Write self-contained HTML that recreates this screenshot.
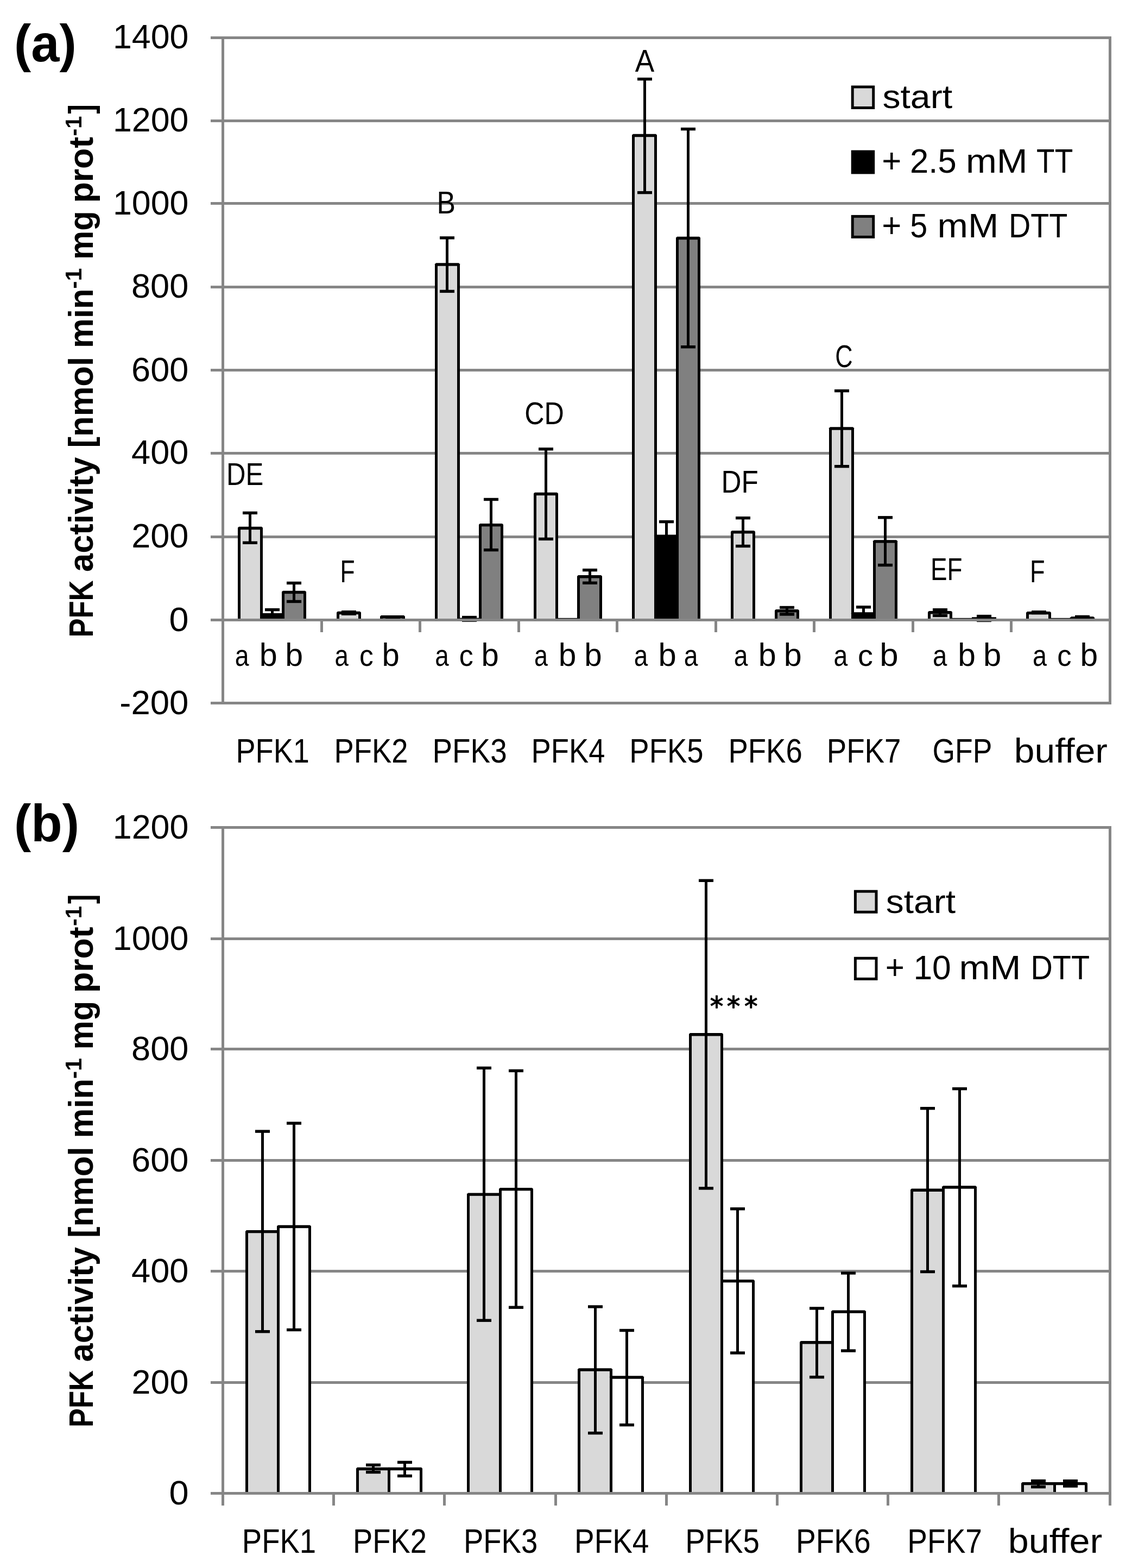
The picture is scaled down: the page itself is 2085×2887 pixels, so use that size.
<!DOCTYPE html>
<html lang="en">
<head>
<meta charset="utf-8">
<title>PFK activity</title>
<style>
html,body{margin:0;padding:0;background:#fff;}
body{width:2085px;height:2887px;overflow:hidden;}
svg{display:block;}
text{font-family:"Liberation Sans",sans-serif;fill:#000;}
</style>
</head>
<body>
<svg width="2085" height="2887" viewBox="0 0 2085 2887">
<rect width="2085" height="2887" fill="#fff"/>
<rect x="388" y="67" width="1659" height="5" fill="#868686"/>
<rect x="388" y="220" width="1659" height="5" fill="#868686"/>
<rect x="388" y="372" width="1659" height="5" fill="#868686"/>
<rect x="388" y="526" width="1659" height="5" fill="#868686"/>
<rect x="388" y="679" width="1659" height="5" fill="#868686"/>
<rect x="388" y="832" width="1659" height="5" fill="#868686"/>
<rect x="388" y="986" width="1659" height="5" fill="#868686"/>
<rect x="388" y="1292" width="1659" height="5" fill="#868686"/>
<rect x="408" y="67" width="5" height="1230" fill="#868686"/>
<rect x="2042" y="67" width="5" height="1230" fill="#868686"/>
<path d="M438 1142V971.8L440 969.8H482L484 971.8V1142Z" fill="#000"/>
<rect x="443" y="975.2" width="36" height="166.8" fill="#D9D9D9"/>
<path d="M479 1142V1131L481 1129H522L524 1131V1142Z" fill="#000"/>
<path d="M519 1142V1089.8L521 1087.8H562L564 1089.8V1142Z" fill="#000"/>
<rect x="524" y="1093.2" width="35" height="48.8" fill="#808080"/>
<path d="M620 1142V1127.8L622 1125.8H663L665 1127.8V1142Z" fill="#000"/>
<rect x="625" y="1131.2" width="35" height="10.8" fill="#D9D9D9"/>
<path d="M700 1142V1135L702 1133H744L746 1135V1142Z" fill="#000"/>
<rect x="705" y="1138.4" width="36" height="3.6" fill="#808080"/>
<path d="M801 1142V486.3L803 484.3H845L847 486.3V1142Z" fill="#000"/>
<rect x="806" y="489.7" width="36" height="652.3" fill="#D9D9D9"/>
<rect x="842" y="1137.7" width="45" height="4.3" fill="#000000"/>
<path d="M882 1142V965.9L884 963.9H925L927 965.9V1142Z" fill="#000"/>
<rect x="887" y="969.3" width="35" height="172.7" fill="#808080"/>
<path d="M983 1142V908.8L985 906.8H1026L1028 908.8V1142Z" fill="#000"/>
<rect x="988" y="912.2" width="35" height="229.8" fill="#D9D9D9"/>
<rect x="1023" y="1137.9" width="45" height="4.1" fill="#000000"/>
<path d="M1063 1142V1061.1L1065 1059.1H1107L1109 1061.1V1142Z" fill="#000"/>
<rect x="1068" y="1064.5" width="36" height="77.5" fill="#808080"/>
<path d="M1164 1142V248.8L1166 246.8H1208L1210 248.8V1142Z" fill="#000"/>
<rect x="1169" y="252.2" width="36" height="889.8" fill="#D9D9D9"/>
<path d="M1205 1142V986.5L1207 984.5H1248L1250 986.5V1142Z" fill="#000"/>
<path d="M1245 1142V437.8L1247 435.8H1288L1290 437.8V1142Z" fill="#000"/>
<rect x="1250" y="441.2" width="35" height="700.8" fill="#808080"/>
<path d="M1346 1142V979L1348 977H1389L1391 979V1142Z" fill="#000"/>
<rect x="1351" y="982.4" width="35" height="159.6" fill="#D9D9D9"/>
<path d="M1427 1142V1124L1429 1122H1470L1472 1124V1142Z" fill="#000"/>
<rect x="1432" y="1127.4" width="35" height="14.6" fill="#808080"/>
<path d="M1527 1142V788.3L1529 786.3H1571L1573 788.3V1142Z" fill="#000"/>
<rect x="1532" y="791.7" width="36" height="350.3" fill="#D9D9D9"/>
<path d="M1568 1142V1129.2L1570 1127.2H1611L1613 1129.2V1142Z" fill="#000"/>
<path d="M1608 1142V996.2L1610 994.2H1651L1653 996.2V1142Z" fill="#000"/>
<rect x="1613" y="999.6" width="35" height="142.4" fill="#808080"/>
<path d="M1709 1142V1127.1L1711 1125.1H1752L1754 1127.1V1142Z" fill="#000"/>
<rect x="1714" y="1130.5" width="35" height="11.5" fill="#D9D9D9"/>
<rect x="1749" y="1137.9" width="46" height="4.1" fill="#000000"/>
<rect x="1790" y="1136.3" width="45" height="5.7" fill="#000000"/>
<rect x="1795" y="1141.7" width="35" height="0.3" fill="#808080"/>
<path d="M1890 1142V1127.9L1892 1125.9H1934L1936 1127.9V1142Z" fill="#000"/>
<rect x="1895" y="1131.3" width="36" height="10.7" fill="#D9D9D9"/>
<rect x="1931" y="1137.9" width="45" height="4.1" fill="#000000"/>
<path d="M1971 1142V1137.2L1973 1135.2H2014L2016 1137.2V1142Z" fill="#000"/>
<rect x="1976" y="1140.6" width="35" height="1.4" fill="#808080"/>
<rect x="458" y="944.4" width="5" height="54.9" fill="#000000"/>
<rect x="447" y="941.7" width="27" height="5.4" fill="#000000"/>
<rect x="447" y="996.6" width="27" height="5.4" fill="#000000"/>
<rect x="499" y="1122.6" width="5" height="12.4" fill="#000000"/>
<rect x="488" y="1119.9" width="27" height="5.4" fill="#000000"/>
<rect x="488" y="1132.3" width="27" height="5.4" fill="#000000"/>
<rect x="539" y="1073.5" width="5" height="34" fill="#000000"/>
<rect x="528" y="1070.8" width="27" height="5.4" fill="#000000"/>
<rect x="528" y="1104.8" width="27" height="5.4" fill="#000000"/>
<rect x="640" y="1126.7" width="5" height="3.6" fill="#000000"/>
<rect x="629" y="1124" width="27" height="5.4" fill="#000000"/>
<rect x="629" y="1127.6" width="27" height="5.4" fill="#000000"/>
<rect x="721" y="1135.7" width="5" height="2.3" fill="#000000"/>
<rect x="710" y="1133" width="27" height="5.4" fill="#000000"/>
<rect x="710" y="1135.3" width="27" height="5.4" fill="#000000"/>
<rect x="821" y="437.9" width="5" height="98.5" fill="#000000"/>
<rect x="810" y="435.2" width="27" height="5.4" fill="#000000"/>
<rect x="810" y="533.7" width="27" height="5.4" fill="#000000"/>
<rect x="862" y="1136.6" width="5" height="5.7" fill="#000000"/>
<rect x="851" y="1133.9" width="27" height="5.4" fill="#000000"/>
<rect x="851" y="1139.6" width="27" height="5.4" fill="#000000"/>
<rect x="902" y="919.5" width="5" height="93.1" fill="#000000"/>
<rect x="891" y="916.8" width="27" height="5.4" fill="#000000"/>
<rect x="891" y="1009.9" width="27" height="5.4" fill="#000000"/>
<rect x="1003" y="826.8" width="5" height="165.6" fill="#000000"/>
<rect x="992" y="824.1" width="27" height="5.4" fill="#000000"/>
<rect x="992" y="989.7" width="27" height="5.4" fill="#000000"/>
<rect x="1084" y="1049.6" width="5" height="23.7" fill="#000000"/>
<rect x="1073" y="1046.9" width="27" height="5.4" fill="#000000"/>
<rect x="1073" y="1070.6" width="27" height="5.4" fill="#000000"/>
<rect x="1185" y="145.6" width="5" height="209" fill="#000000"/>
<rect x="1174" y="142.9" width="27" height="5.4" fill="#000000"/>
<rect x="1174" y="351.9" width="27" height="5.4" fill="#000000"/>
<rect x="1225" y="960.6" width="5" height="39.4" fill="#000000"/>
<rect x="1214" y="957.9" width="27" height="5.4" fill="#000000"/>
<rect x="1214" y="997.3" width="27" height="5.4" fill="#000000"/>
<rect x="1265" y="237.6" width="5" height="401.1" fill="#000000"/>
<rect x="1254" y="234.9" width="27" height="5.4" fill="#000000"/>
<rect x="1254" y="636" width="27" height="5.4" fill="#000000"/>
<rect x="1366" y="953.7" width="5" height="51.8" fill="#000000"/>
<rect x="1355" y="951" width="27" height="5.4" fill="#000000"/>
<rect x="1355" y="1002.8" width="27" height="5.4" fill="#000000"/>
<rect x="1447" y="1118.5" width="5" height="12.5" fill="#000000"/>
<rect x="1436" y="1115.8" width="27" height="5.4" fill="#000000"/>
<rect x="1436" y="1128.3" width="27" height="5.4" fill="#000000"/>
<rect x="1548" y="719.6" width="5" height="139.1" fill="#000000"/>
<rect x="1537" y="716.9" width="27" height="5.4" fill="#000000"/>
<rect x="1537" y="856" width="27" height="5.4" fill="#000000"/>
<rect x="1588" y="1117.8" width="5" height="17.2" fill="#000000"/>
<rect x="1577" y="1115.1" width="27" height="5.4" fill="#000000"/>
<rect x="1577" y="1132.3" width="27" height="5.4" fill="#000000"/>
<rect x="1628" y="952.8" width="5" height="87.7" fill="#000000"/>
<rect x="1617" y="950.1" width="27" height="5.4" fill="#000000"/>
<rect x="1617" y="1037.8" width="27" height="5.4" fill="#000000"/>
<rect x="1729" y="1122.7" width="5" height="10.8" fill="#000000"/>
<rect x="1718" y="1120" width="27" height="5.4" fill="#000000"/>
<rect x="1718" y="1130.8" width="27" height="5.4" fill="#000000"/>
<rect x="1810" y="1134.6" width="5" height="7.9" fill="#000000"/>
<rect x="1799" y="1131.9" width="27" height="5.4" fill="#000000"/>
<rect x="1799" y="1139.8" width="27" height="5.4" fill="#000000"/>
<rect x="1911" y="1126.8" width="5" height="1.8" fill="#000000"/>
<rect x="1900" y="1124.1" width="27" height="5.4" fill="#000000"/>
<rect x="1900" y="1125.9" width="27" height="5.4" fill="#000000"/>
<rect x="1991" y="1135.5" width="5" height="2.5" fill="#000000"/>
<rect x="1980" y="1132.8" width="27" height="5.4" fill="#000000"/>
<rect x="1980" y="1135.3" width="27" height="5.4" fill="#000000"/>
<rect x="388" y="1139" width="1659" height="5" fill="#868686"/>
<rect x="590" y="1142" width="5" height="22" fill="#868686"/>
<rect x="771" y="1142" width="5" height="22" fill="#868686"/>
<rect x="953" y="1142" width="5" height="22" fill="#868686"/>
<rect x="1134" y="1142" width="5" height="22" fill="#868686"/>
<rect x="1316" y="1142" width="5" height="22" fill="#868686"/>
<rect x="1497" y="1142" width="5" height="22" fill="#868686"/>
<rect x="1679" y="1142" width="5" height="22" fill="#868686"/>
<rect x="1860" y="1142" width="5" height="22" fill="#868686"/>
<text transform="translate(207.9 88.8) scale(0.9905 1)" font-size="63.3">1400</text>
<text transform="translate(207.9 242) scale(0.9905 1)" font-size="63.3">1200</text>
<text transform="translate(207.9 394.8) scale(0.9905 1)" font-size="63.3">1000</text>
<text transform="translate(242.02 547.9) scale(0.9971 1)" font-size="63.3">800</text>
<text transform="translate(242.04 702) scale(0.9969 1)" font-size="63.3">600</text>
<text transform="translate(242.08 854.4) scale(0.9965 1)" font-size="63.3">400</text>
<text transform="translate(242.15 1007.7) scale(0.9959 1)" font-size="63.3">200</text>
<text transform="translate(311.41 1162.3) scale(1.0223 1)" font-size="63.3">0</text>
<text transform="translate(220.24 1314.6) scale(1.0035 1)" font-size="63.3">-200</text>
<text transform="translate(434.54 1403.8) scale(0.8545 1)" font-size="63.3">PFK1</text>
<text transform="translate(615.52 1403.8) scale(0.8588 1)" font-size="63.3">PFK2</text>
<text transform="translate(796.47 1403.8) scale(0.8667 1)" font-size="63.3">PFK3</text>
<text transform="translate(978.62 1403.8) scale(0.8573 1)" font-size="63.3">PFK4</text>
<text transform="translate(1159.31 1403.8) scale(0.8605 1)" font-size="63.3">PFK5</text>
<text transform="translate(1341.4 1403.8) scale(0.8614 1)" font-size="63.3">PFK6</text>
<text transform="translate(1522.69 1403.8) scale(0.8641 1)" font-size="63.3">PFK7</text>
<text transform="translate(1717.43 1403.8) scale(0.8447 1)" font-size="63.3">GFP</text>
<text transform="translate(1867.79 1403.8) scale(1.0710 1)" font-size="63.3">buffer</text>
<g>
<text transform="translate(432.63 1225.8) scale(0.8287 1)" font-size="56">a</text>
<text transform="translate(477.64 1225.8) scale(0.9889 1)" font-size="60">b</text>
<text transform="translate(525.16 1225.8) scale(0.9852 1)" font-size="60">b</text>
</g>
<g>
<text transform="translate(616.56 1225.8) scale(0.8148 1)" font-size="56">a</text>
<text transform="translate(661.92 1225.8) scale(0.9178 1)" font-size="56">c</text>
<text transform="translate(703.43 1225.8) scale(0.9667 1)" font-size="60">b</text>
</g>
<g>
<text transform="translate(801.15 1225.8) scale(0.8183 1)" font-size="56">a</text>
<text transform="translate(845.69 1225.8) scale(0.9302 1)" font-size="56">c</text>
<text transform="translate(886.53 1225.8) scale(0.9667 1)" font-size="60">b</text>
</g>
<g>
<text transform="translate(983.99 1225.8) scale(0.8010 1)" font-size="56">a</text>
<text transform="translate(1028.79 1225.8) scale(0.9778 1)" font-size="60">b</text>
<text transform="translate(1076.22 1225.8) scale(0.9704 1)" font-size="60">b</text>
</g>
<g>
<text transform="translate(1167.75 1225.8) scale(0.8183 1)" font-size="56">a</text>
<text transform="translate(1212.51 1225.8) scale(0.9963 1)" font-size="60">b</text>
<text transform="translate(1259.84 1225.8) scale(0.8252 1)" font-size="56">a</text>
</g>
<g>
<text transform="translate(1351.64 1225.8) scale(0.8252 1)" font-size="56">a</text>
<text transform="translate(1396.64 1225.8) scale(0.9889 1)" font-size="60">b</text>
<text transform="translate(1443.84 1225.8) scale(0.9889 1)" font-size="60">b</text>
</g>
<g>
<text transform="translate(1535.43 1225.8) scale(0.8287 1)" font-size="56">a</text>
<text transform="translate(1580.03 1225.8) scale(0.9967 1)" font-size="56">c</text>
<text transform="translate(1620.28 1225.8) scale(1.0296 1)" font-size="60">b</text>
</g>
<g>
<text transform="translate(1718.09 1225.8) scale(0.8460 1)" font-size="56">a</text>
<text transform="translate(1764.29 1225.8) scale(0.9778 1)" font-size="60">b</text>
<text transform="translate(1811.11 1225.8) scale(0.9963 1)" font-size="60">b</text>
</g>
<g>
<text transform="translate(1902.01 1225.8) scale(0.8356 1)" font-size="56">a</text>
<text transform="translate(1947.37 1225.8) scale(0.9385 1)" font-size="56">c</text>
<text transform="translate(1989.39 1225.8) scale(0.9778 1)" font-size="60">b</text>
</g>
<text transform="translate(417.04 892.9) scale(0.8492 1)" font-size="57.9">DE</text>
<text transform="translate(626.54 1072.2) scale(0.7652 1)" font-size="57.9">F</text>
<text transform="translate(804.54 392.9) scale(0.8919 1)" font-size="57.9">B</text>
<text transform="translate(966.28 780.6) scale(0.8690 1)" font-size="57.9">CD</text>
<text transform="translate(1169.67 132.2) scale(0.9177 1)" font-size="57.9">A</text>
<text transform="translate(1328.57 907.2) scale(0.8850 1)" font-size="57.9">DF</text>
<text transform="translate(1538.26 676.3) scale(0.7752 1)" font-size="57.9">C</text>
<text transform="translate(1714.02 1068) scale(0.7910 1)" font-size="57.9">EF</text>
<text transform="translate(1896.98 1072.2) scale(0.7794 1)" font-size="57.9">F</text>
<rect x="1567.7" y="157.5" width="43.5" height="43.5" fill="#000000"/>
<rect x="1572.7" y="162.5" width="33.5" height="33.5" fill="#D9D9D9"/>
<g>
<text transform="translate(1625.38 199.4) scale(1.0939 1)" font-size="60.5">start</text>
</g>
<rect x="1567.7" y="276.6" width="43.5" height="43.8" fill="#000000"/>
<g>
<text transform="translate(1624.27 317.6) scale(0.9754 1)" font-size="63.3">+</text>
<text transform="translate(1676.12 317.6) scale(0.9722 1)" font-size="63.3">2.5</text>
<text transform="translate(1778.99 317.6) scale(1.0782 1)" font-size="63.3">mM</text>
<text transform="translate(1909.06 317.6) scale(0.8685 1)" font-size="63.3">TT</text>
</g>
<rect x="1567.7" y="395.9" width="43.5" height="43" fill="#000000"/>
<rect x="1572.7" y="400.9" width="33.5" height="33" fill="#808080"/>
<g>
<text transform="translate(1624.27 436.7) scale(0.9754 1)" font-size="63.3">+</text>
<text transform="translate(1676.3 436.7) scale(0.9080 1)" font-size="63.3">5</text>
<text transform="translate(1726.53 436.7) scale(1.0688 1)" font-size="63.3">mM</text>
<text transform="translate(1858 436.7) scale(0.8804 1)" font-size="63.3">DTT</text>
</g>
<text transform="translate(26.11 113.4) scale(0.9711 1)" font-size="96.6" font-weight="bold">(a)</text>
<g>
<text transform="translate(171.2 1173.54) rotate(-90) scale(0.8265 1)" font-size="63.5" font-weight="bold">PFK</text>
<text transform="translate(171.2 1052.94) rotate(-90) scale(0.9657 1)" font-size="63.5" font-weight="bold">activity</text>
<text transform="translate(171.2 824.38) rotate(-90) scale(0.9688 1)" font-size="63.5" font-weight="bold">[nmol</text>
<text transform="translate(171.2 640.91) rotate(-90) scale(0.9711 1)" font-size="63.5" font-weight="bold">min</text>
<text transform="translate(150.1 531.82) rotate(-90) scale(1.0294 1)" font-size="41.7" font-weight="bold">-1</text>
<text transform="translate(171.2 477.89) rotate(-90) scale(0.9426 1)" font-size="63.5" font-weight="bold">mg</text>
<text transform="translate(171.2 373.46) rotate(-90) scale(0.9846 1)" font-size="63.5" font-weight="bold">prot</text>
<text transform="translate(150.1 250.56) rotate(-90) scale(0.9943 1)" font-size="41.7" font-weight="bold">-1</text>
<text transform="translate(171.2 209.77) rotate(-90) scale(0.8439 1)" font-size="63.5" font-weight="bold">]</text>
</g>
<rect x="388" y="1521" width="1659" height="5" fill="#868686"/>
<rect x="388" y="1726" width="1659" height="5" fill="#868686"/>
<rect x="388" y="1929" width="1659" height="5" fill="#868686"/>
<rect x="388" y="2134" width="1659" height="5" fill="#868686"/>
<rect x="388" y="2338" width="1659" height="5" fill="#868686"/>
<rect x="388" y="2543" width="1659" height="5" fill="#868686"/>
<rect x="408" y="1521" width="5" height="1251" fill="#868686"/>
<rect x="2042" y="1521" width="5" height="1251" fill="#868686"/>
<path d="M452 2750V2266.9L454 2264.9H513L515 2266.9V2750Z" fill="#000"/>
<rect x="457" y="2270.3" width="53" height="479.7" fill="#D9D9D9"/>
<path d="M510 2750V2257.8L512 2255.8H571L573 2257.8V2750Z" fill="#000"/>
<rect x="515" y="2261.2" width="53" height="488.8" fill="#FFFFFF"/>
<path d="M656 2750V2703.8L658 2701.8H717L719 2703.8V2750Z" fill="#000"/>
<rect x="661" y="2707.2" width="53" height="42.8" fill="#D9D9D9"/>
<path d="M714 2750V2703.8L716 2701.8H776L778 2703.8V2750Z" fill="#000"/>
<rect x="719" y="2707.2" width="54" height="42.8" fill="#FFFFFF"/>
<path d="M860 2750V2198.4L862 2196.4H922L924 2198.4V2750Z" fill="#000"/>
<rect x="865" y="2201.8" width="54" height="548.2" fill="#D9D9D9"/>
<path d="M919 2750V2188.9L921 2186.9H980L982 2188.9V2750Z" fill="#000"/>
<rect x="924" y="2192.3" width="53" height="557.7" fill="#FFFFFF"/>
<path d="M1064 2750V2521.3L1066 2519.3H1126L1128 2521.3V2750Z" fill="#000"/>
<rect x="1069" y="2524.7" width="54" height="225.3" fill="#D9D9D9"/>
<path d="M1123 2750V2535.3L1125 2533.3H1184L1186 2535.3V2750Z" fill="#000"/>
<rect x="1128" y="2538.7" width="53" height="211.3" fill="#FFFFFF"/>
<path d="M1269 2750V1904.1L1271 1902.1H1330L1332 1904.1V2750Z" fill="#000"/>
<rect x="1274" y="1907.5" width="53" height="842.5" fill="#D9D9D9"/>
<path d="M1327 2750V2357.9L1329 2355.9H1388L1390 2357.9V2750Z" fill="#000"/>
<rect x="1332" y="2361.3" width="53" height="388.7" fill="#FFFFFF"/>
<path d="M1473 2750V2471.1L1475 2469.1H1534L1536 2471.1V2750Z" fill="#000"/>
<rect x="1478" y="2474.5" width="53" height="275.5" fill="#D9D9D9"/>
<path d="M1531 2750V2414.4L1533 2412.4H1593L1595 2414.4V2750Z" fill="#000"/>
<rect x="1536" y="2417.8" width="54" height="332.2" fill="#FFFFFF"/>
<path d="M1677 2750V2190.6L1679 2188.6H1738L1740 2190.6V2750Z" fill="#000"/>
<rect x="1682" y="2194" width="53" height="556" fill="#D9D9D9"/>
<path d="M1735 2750V2185.3L1737 2183.3H1797L1799 2185.3V2750Z" fill="#000"/>
<rect x="1740" y="2188.7" width="54" height="561.3" fill="#FFFFFF"/>
<path d="M1881 2750V2730.9L1883 2728.9H1943L1945 2730.9V2750Z" fill="#000"/>
<rect x="1886" y="2734.3" width="54" height="15.7" fill="#D9D9D9"/>
<path d="M1940 2750V2730.9L1942 2728.9H2001L2003 2730.9V2750Z" fill="#000"/>
<rect x="1945" y="2734.3" width="53" height="15.7" fill="#FFFFFF"/>
<rect x="481" y="2083.1" width="5" height="368.6" fill="#000000"/>
<rect x="470" y="2080.4" width="27" height="5.4" fill="#000000"/>
<rect x="470" y="2449" width="27" height="5.4" fill="#000000"/>
<rect x="539" y="2068.1" width="5" height="380.4" fill="#000000"/>
<rect x="528" y="2065.4" width="27" height="5.4" fill="#000000"/>
<rect x="528" y="2445.8" width="27" height="5.4" fill="#000000"/>
<rect x="685" y="2697.3" width="5" height="13.3" fill="#000000"/>
<rect x="674" y="2694.6" width="27" height="5.4" fill="#000000"/>
<rect x="674" y="2707.9" width="27" height="5.4" fill="#000000"/>
<rect x="743" y="2692.4" width="5" height="25.1" fill="#000000"/>
<rect x="732" y="2689.7" width="27" height="5.4" fill="#000000"/>
<rect x="732" y="2714.8" width="27" height="5.4" fill="#000000"/>
<rect x="889" y="1966.4" width="5" height="464.8" fill="#000000"/>
<rect x="878" y="1963.7" width="27" height="5.4" fill="#000000"/>
<rect x="878" y="2428.5" width="27" height="5.4" fill="#000000"/>
<rect x="948" y="1971.5" width="5" height="435.7" fill="#000000"/>
<rect x="937" y="1968.8" width="27" height="5.4" fill="#000000"/>
<rect x="937" y="2404.5" width="27" height="5.4" fill="#000000"/>
<rect x="1094" y="2405.9" width="5" height="232.7" fill="#000000"/>
<rect x="1083" y="2403.2" width="27" height="5.4" fill="#000000"/>
<rect x="1083" y="2635.9" width="27" height="5.4" fill="#000000"/>
<rect x="1152" y="2449.5" width="5" height="174.1" fill="#000000"/>
<rect x="1141" y="2446.8" width="27" height="5.4" fill="#000000"/>
<rect x="1141" y="2620.9" width="27" height="5.4" fill="#000000"/>
<rect x="1298" y="1621.3" width="5" height="566.6" fill="#000000"/>
<rect x="1287" y="1618.6" width="27" height="5.4" fill="#000000"/>
<rect x="1287" y="2185.2" width="27" height="5.4" fill="#000000"/>
<rect x="1356" y="2225.7" width="5" height="265.3" fill="#000000"/>
<rect x="1345" y="2223" width="27" height="5.4" fill="#000000"/>
<rect x="1345" y="2488.3" width="27" height="5.4" fill="#000000"/>
<rect x="1502" y="2408.9" width="5" height="126.7" fill="#000000"/>
<rect x="1491" y="2406.2" width="27" height="5.4" fill="#000000"/>
<rect x="1491" y="2532.9" width="27" height="5.4" fill="#000000"/>
<rect x="1560" y="2344" width="5" height="143" fill="#000000"/>
<rect x="1549" y="2341.3" width="27" height="5.4" fill="#000000"/>
<rect x="1549" y="2484.3" width="27" height="5.4" fill="#000000"/>
<rect x="1706" y="2040.7" width="5" height="300.8" fill="#000000"/>
<rect x="1695" y="2038" width="27" height="5.4" fill="#000000"/>
<rect x="1695" y="2338.8" width="27" height="5.4" fill="#000000"/>
<rect x="1765" y="2004.6" width="5" height="363.2" fill="#000000"/>
<rect x="1754" y="2001.9" width="27" height="5.4" fill="#000000"/>
<rect x="1754" y="2365.1" width="27" height="5.4" fill="#000000"/>
<rect x="1910" y="2726.6" width="5" height="11.1" fill="#000000"/>
<rect x="1899" y="2723.9" width="27" height="5.4" fill="#000000"/>
<rect x="1899" y="2735" width="27" height="5.4" fill="#000000"/>
<rect x="1969" y="2726.7" width="5" height="9.5" fill="#000000"/>
<rect x="1958" y="2724" width="27" height="5.4" fill="#000000"/>
<rect x="1958" y="2733.5" width="27" height="5.4" fill="#000000"/>
<rect x="388" y="2747" width="1659" height="5" fill="#868686"/>
<rect x="612" y="2750" width="5" height="22" fill="#868686"/>
<rect x="816" y="2750" width="5" height="22" fill="#868686"/>
<rect x="1021" y="2750" width="5" height="22" fill="#868686"/>
<rect x="1225" y="2750" width="5" height="22" fill="#868686"/>
<rect x="1429" y="2750" width="5" height="22" fill="#868686"/>
<rect x="1633" y="2750" width="5" height="22" fill="#868686"/>
<rect x="1837" y="2750" width="5" height="22" fill="#868686"/>
<text transform="translate(207.79 1544) scale(0.9920 1)" font-size="63.3">1200</text>
<text transform="translate(207.79 1748.8) scale(0.9920 1)" font-size="63.3">1000</text>
<text transform="translate(242.01 1952.2) scale(0.9981 1)" font-size="63.3">800</text>
<text transform="translate(242.04 2156.8) scale(0.9979 1)" font-size="63.3">600</text>
<text transform="translate(242.08 2361.1) scale(0.9975 1)" font-size="63.3">400</text>
<text transform="translate(242.56 2565.5) scale(0.9929 1)" font-size="63.3">200</text>
<text transform="translate(311.4 2769.5) scale(1.0256 1)" font-size="63.3">0</text>
<text transform="translate(445.8 2858.7) scale(0.8612 1)" font-size="63.3">PFK1</text>
<text transform="translate(650.12 2858.7) scale(0.8575 1)" font-size="63.3">PFK2</text>
<text transform="translate(854.01 2858.7) scale(0.8607 1)" font-size="63.3">PFK3</text>
<text transform="translate(1058.07 2858.7) scale(0.8672 1)" font-size="63.3">PFK4</text>
<text transform="translate(1262.19 2858.7) scale(0.8638 1)" font-size="63.3">PFK5</text>
<text transform="translate(1465.96 2858.7) scale(0.8700 1)" font-size="63.3">PFK6</text>
<text transform="translate(1671.36 2858.7) scale(0.8695 1)" font-size="63.3">PFK7</text>
<text transform="translate(1856.86 2858.7) scale(1.0793 1)" font-size="63.3">buffer</text>
<rect x="1572.9" y="1638.7" width="43.6" height="43.1" fill="#000000"/>
<rect x="1577.9" y="1643.7" width="33.6" height="33.1" fill="#D9D9D9"/>
<g>
<text transform="translate(1631.69 1680.9) scale(1.0904 1)" font-size="60.5">start</text>
</g>
<rect x="1572.9" y="1761.8" width="43.6" height="43.1" fill="#000000"/>
<rect x="1577.9" y="1766.8" width="33.6" height="33.1" fill="#FFFFFF"/>
<g>
<text transform="translate(1630.65 1803.4) scale(0.9495 1)" font-size="63.3">+</text>
<text transform="translate(1682.42 1803.4) scale(0.9851 1)" font-size="63.3">10</text>
<text transform="translate(1766.59 1803.4) scale(1.0793 1)" font-size="63.3">mM</text>
<text transform="translate(1898.49 1803.4) scale(0.8821 1)" font-size="63.3">DTT</text>
</g>
<text y="1869.6" font-size="49" style="font-family:&quot;DejaVu Sans&quot;,&quot;Liberation Sans&quot;,sans-serif" stroke="#000" stroke-width="1.3" stroke-linejoin="round"><tspan x="1307.75">*</tspan><tspan x="1338.8">*</tspan><tspan x="1370.95">*</tspan></text>
<text transform="translate(26.11 1549.3) scale(0.9715 1)" font-size="96.6" font-weight="bold">(b)</text>
<g>
<text transform="translate(171.2 2628.04) rotate(-90) scale(0.8265 1)" font-size="63.5" font-weight="bold">PFK</text>
<text transform="translate(171.2 2507.44) rotate(-90) scale(0.9657 1)" font-size="63.5" font-weight="bold">activity</text>
<text transform="translate(171.2 2278.88) rotate(-90) scale(0.9688 1)" font-size="63.5" font-weight="bold">[nmol</text>
<text transform="translate(171.2 2095.41) rotate(-90) scale(0.9711 1)" font-size="63.5" font-weight="bold">min</text>
<text transform="translate(150.1 1986.32) rotate(-90) scale(1.0294 1)" font-size="41.7" font-weight="bold">-1</text>
<text transform="translate(171.2 1932.39) rotate(-90) scale(0.9426 1)" font-size="63.5" font-weight="bold">mg</text>
<text transform="translate(171.2 1827.96) rotate(-90) scale(0.9846 1)" font-size="63.5" font-weight="bold">prot</text>
<text transform="translate(150.1 1705.06) rotate(-90) scale(0.9943 1)" font-size="41.7" font-weight="bold">-1</text>
<text transform="translate(171.2 1664.27) rotate(-90) scale(0.8439 1)" font-size="63.5" font-weight="bold">]</text>
</g>
</svg>
</body>
</html>
